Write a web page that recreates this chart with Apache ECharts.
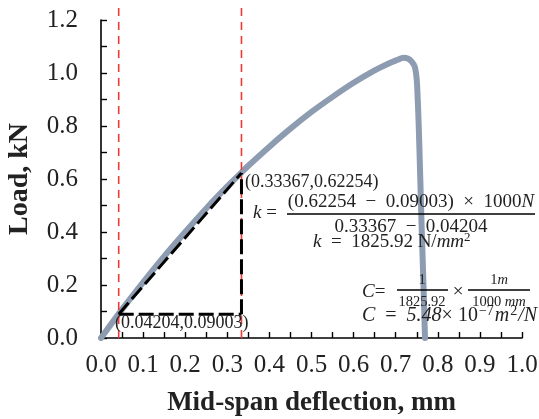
<!DOCTYPE html>
<html>
<head>
<meta charset="utf-8">
<script src="https://cdn.jsdelivr.net/npm/echarts@6/dist/echarts.min.js"></script>
<style>
  html, body { margin: 0; padding: 0; background: #fff; }
  #chart { width: 539px; height: 419px; }
</style>
</head>
<body>
<div id="chart"></div>
<script>
// Load–deflection curve of the beam (mid-span deflection in mm, load in kN)
const deflection = [0, 0.05, 0.1, 0.15, 0.2, 0.25, 0.3, 0.334, 0.35, 0.4, 0.45, 0.5, 0.55, 0.6, 0.65, 0.686, 0.705, 0.718, 0.73, 0.738, 0.745, 0.749, 0.751, 0.7547, 0.7584, 0.762, 0.766, 0.7696];
const load       = [0, 0.108, 0.21, 0.308, 0.40, 0.489, 0.572, 0.625, 0.65, 0.722, 0.79, 0.853, 0.91, 0.963, 1.01, 1.038, 1.05, 1.058, 1.054, 1.043, 1.025, 0.99, 0.95, 0.8, 0.6, 0.4, 0.2, 0];

// Points used for the stiffness calculation
const pointA = [0.04204, 0.09003];
const pointB = [0.33367, 0.62254];

// Axis tick labels
const xTickLabels = ['0.0', '0.1', '0.2', '0.3', '0.4', '0.5', '0.6', '0.7', '0.8', '0.9', '1.0'];
const yTickLabels = ['0.0', '0.2', '0.4', '0.6', '0.8', '1.0', '1.2'];

const curve = deflection.map((x, i) => [x, load[i]]);
const guideTop = 1.255;

const serif = '"Liberation Serif", "Times New Roman", serif';
const textColor = '#222';

const chart = echarts.init(document.getElementById('chart'), null, { renderer: 'canvas' });

const dashedRed = { color: '#ec3b36', width: 1.6, type: [8, 6] };
const dashedBlack = { color: '#000', width: 3, type: [15, 5] };

function guide(data, style, z) {
  return {
    type: 'line', data, showSymbol: false, clip: false, silent: true, z,
    lineStyle: style, animation: false
  };
}

function txt(x, y, rich, text, align) {
  return {
    type: 'text', x, y, z: 100,
    style: { text, rich, align: align || 'left', verticalAlign: 'middle', font: '19px ' + serif, fill: textColor }
  };
}

const base = { fontFamily: serif, fontSize: 19, color: textColor };
const it = { fontFamily: serif, fontSize: 19, fontStyle: 'italic', color: textColor };
const sup = { fontFamily: serif, fontSize: 13, color: textColor, verticalAlign: 'top', padding: [0, 0, 8, 0] };
const big = { fontFamily: serif, fontSize: 20, color: textColor };
const bigIt = { fontFamily: serif, fontSize: 20, fontStyle: 'italic', color: textColor };
const bigSup = { fontFamily: serif, fontSize: 14, color: textColor, verticalAlign: 'top', padding: [0, 1, 9, 1] };
const small = { fontFamily: serif, fontSize: 14.5, color: textColor };
const smallIt = { fontFamily: serif, fontSize: 14.5, fontStyle: 'italic', color: textColor };
const pt = { fontFamily: serif, fontSize: 18, color: textColor };
const rich = { b: base, i: it, s: sup, g: big, gi: bigIt, gs: bigSup, m: small, mi: smallIt, p: pt };

function bar(x1, x2, y) {
  return { type: 'line', z: 100, shape: { x1, y1: y, x2, y2: y }, style: { stroke: '#000', lineWidth: 1.3 } };
}

chart.setOption({
  animation: false,
  grid: { left: 101, right: 17, top: 20, bottom: 81, containLabel: false, outerBoundsMode: 'none' },
  xAxis: {
    type: 'value', min: 0, max: 1, interval: 0.1,
    name: 'Mid-span deflection, mm', nameLocation: 'middle', nameGap: 52,
    nameTextStyle: { fontFamily: serif, fontSize: 27, fontWeight: 'bold', color: textColor },
    axisLine: { show: true, lineStyle: { color: '#000', width: 1.6 } },
    axisTick: { show: true, inside: true, length: 6, lineStyle: { color: '#000', width: 1.4 } },
    minorTick: { show: true, splitNumber: 2, length: 6, lineStyle: { color: '#000', width: 1.4 } },
    axisLabel: {
      margin: 15, fontFamily: serif, fontSize: 25, color: textColor,
      formatter: v => xTickLabels[Math.round(v * 10)]
    },
    splitLine: { show: false }
  },
  yAxis: {
    type: 'value', min: 0, max: 1.2, interval: 0.2,
    name: 'Load, kN', nameLocation: 'middle', nameGap: 67, nameRotate: 90,
    nameTextStyle: { fontFamily: serif, fontSize: 28, fontWeight: 'bold', color: textColor },
    axisLine: { show: true, lineStyle: { color: '#000', width: 1.6 } },
    axisTick: { show: true, inside: true, length: 6, lineStyle: { color: '#000', width: 1.4 } },
    minorTick: { show: true, splitNumber: 2, length: 6, lineStyle: { color: '#000', width: 1.4 } },
    axisLabel: {
      margin: 23, fontFamily: serif, fontSize: 25, color: textColor,
      formatter: v => yTickLabels[Math.round(v * 5)]
    },
    splitLine: { show: false }
  },
  series: [
    {
      type: 'line', data: curve, showSymbol: false, z: 2,
      smooth: 0.3,
      lineStyle: { color: '#8d9cb1', width: 6, join: 'round', cap: 'round' }
    },
    guide([[pointA[0], 0], [pointA[0], guideTop]], dashedRed, 3),
    guide([[pointB[0], 0], [pointB[0], guideTop]], dashedRed, 3),
    guide([pointA, pointB], dashedBlack, 4),
    guide([pointA, [pointB[0], pointA[1]]], dashedBlack, 4),
    guide([[pointB[0], pointA[1]], pointB], dashedBlack, 4)
  ],
  graphic: [
    txt(245, 182, rich, '{p|(0.33367,0.62254)}'),
    txt(115, 323, rich, '{p|(0.04204,0.09003)}'),
    txt(253, 213, rich, '{i|k} {b|=}'),
    txt(411, 202, rich, '{b|(0.62254  −  0.09003)  ×  1000}{i|N}', 'center'),
    bar(287, 535, 214),
    txt(411, 227, rich, '{b|0.33367  −  0.04204}', 'center'),
    txt(313, 242, rich, '{i|k}{b|  =  1825.92 N/}{i|mm}{s|2}'),
    txt(362, 292, rich, '{i|C}{b|=}'),
    txt(422, 280, rich, '{m|1}', 'center'),
    bar(397, 448, 290),
    txt(422, 302, rich, '{m|1825.92}', 'center'),
    txt(458, 292, rich, '{b|×}', 'center'),
    txt(499, 280, rich, '{m|1}{mi|m}', 'center'),
    bar(468, 530, 290),
    txt(499, 302, rich, '{m|1000 }{mi|mm}', 'center'),
    txt(362, 316, rich, '{gi|C}{g|  =  }{gi|5.48}{g|× 10}{gs|−7}{gi|m}{gs|2}{gi|/N}')
  ]
});
</script>
</body>
</html>
